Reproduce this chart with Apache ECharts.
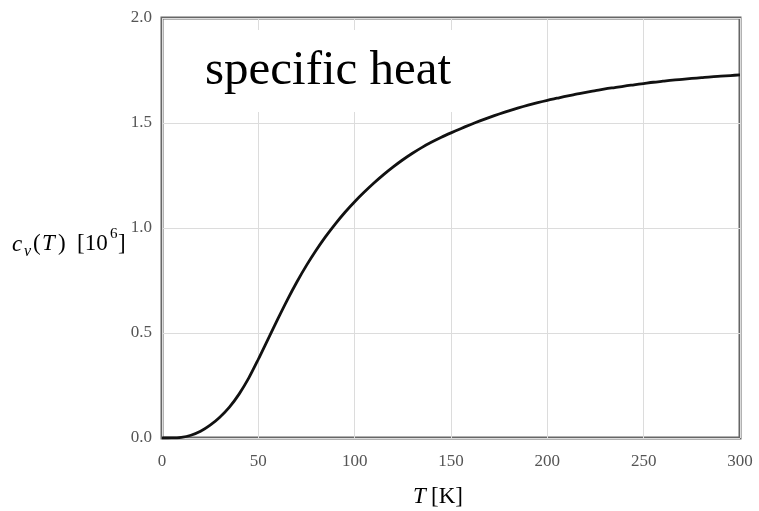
<!DOCTYPE html>
<html><head><meta charset="utf-8">
<script src="https://cdn.jsdelivr.net/npm/echarts@6/dist/echarts.min.js"></script>
<style>html,body{margin:0;padding:0;background:#fff}#c{width:759px;height:511px}</style>
</head><body><div id="c"></div>
<script>
const temps = [0,5,10,15,20,25,30,35,40,45,50,55,60,65,70,75,80,85,90,95,
  100,105,110,115,120,125,130,135,140,145,150,155,160,165,170,175,180,185,190,195,
  200,205,210,215,220,225,230,235,240,245,250,255,260,265,270,275,280,285,290,295,300];
const cv = [0,0.0002,0.003,0.013,0.032,0.061,0.099,0.147,0.209,0.285,0.375,0.470,0.565,0.657,0.743,0.822,0.894,0.960,1.020,1.075,
  1.125,1.171,1.214,1.254,1.291,1.325,1.356,1.384,1.409,1.432,1.453,1.473,1.492,1.510,1.527,1.543,1.558,1.572,1.585,1.597,
  1.608,1.618,1.628,1.637,1.646,1.654,1.662,1.669,1.676,1.682,1.688,1.694,1.699,1.704,1.708,1.712,1.716,1.720,1.723,1.726,1.729];
const xTicks = [0,50,100,150,200,250,300];
const yTicks = [0,0.5,1.0,1.5,2.0];
const titleText = 'specific heat';

const chart = echarts.init(document.getElementById('c'), null, {renderer:'canvas'});
const lblFont = 'Liberation Serif';
const serif = '"Liberation Serif"';
chart.setOption({
  animation:false,
  grid:{left:162,right:19,top:18,bottom:73,show:true,borderColor:'#666',borderWidth:3,backgroundColor:'transparent'},
  xAxis:{type:'value',min:xTicks[0],max:xTicks[xTicks.length-1],interval:50,
    axisLine:{show:false},axisTick:{show:false},
    axisLabel:{color:'#555',fontFamily:lblFont,fontSize:17,margin:15},
    splitLine:{show:true,lineStyle:{color:'#dcdcdc',width:1}}},
  yAxis:{type:'value',min:yTicks[0],max:yTicks[yTicks.length-1],interval:0.5,
    axisLine:{show:false},axisTick:{show:false},
    axisLabel:{color:'#555',fontFamily:lblFont,fontSize:17,margin:10,formatter:v=>v.toFixed(1)},
    splitLine:{show:true,lineStyle:{color:'#dcdcdc',width:1}}},
  graphic:[
    {type:'rect',z:5,shape:{x:195,y:30,width:270,height:82},style:{fill:'#fff'}},
    {type:'text',z:6,left:205,top:47,style:{text:titleText,fill:'#000',font:'49px '+serif}},
    {type:'text',z:6,x:12,y:245,style:{text:'c',fill:'#000',font:'italic 23px '+serif,verticalAlign:'middle'}},
    {type:'text',z:6,x:24,y:252,style:{text:'v',fill:'#000',font:'italic 16px '+serif,verticalAlign:'middle'}},
    {type:'text',z:6,x:33,y:244,style:{text:'(',fill:'#000',font:'23px '+serif,verticalAlign:'middle'}},
    {type:'text',z:6,x:42,y:244,style:{text:'T',fill:'#000',font:'italic 23px '+serif,verticalAlign:'middle'}},
    {type:'text',z:6,x:58,y:244,style:{text:')',fill:'#000',font:'23px '+serif,verticalAlign:'middle'}},
    {type:'text',z:6,x:77,y:244,style:{text:'[10',fill:'#000',font:'23px '+serif,verticalAlign:'middle'}},
    {type:'text',z:6,x:110,y:234,style:{text:'6',fill:'#000',font:'15px '+serif,verticalAlign:'middle'}},
    {type:'text',z:6,x:118,y:244,style:{text:']',fill:'#000',font:'23px '+serif,verticalAlign:'middle'}},
    {type:'text',z:6,x:413,y:497,style:{text:'T',fill:'#000',font:'italic 23px '+serif,verticalAlign:'middle'}},
    {type:'text',z:6,x:431,y:497,style:{text:'[K]',fill:'#000',font:'23px '+serif,verticalAlign:'middle'}}
  ],
  series:[{type:'line',z:3,data:temps.map((t,i)=>[t,cv[i]]),smooth:0.3,showSymbol:false,
    lineStyle:{color:'#111',width:2.8}}]
});
</script></body></html>
